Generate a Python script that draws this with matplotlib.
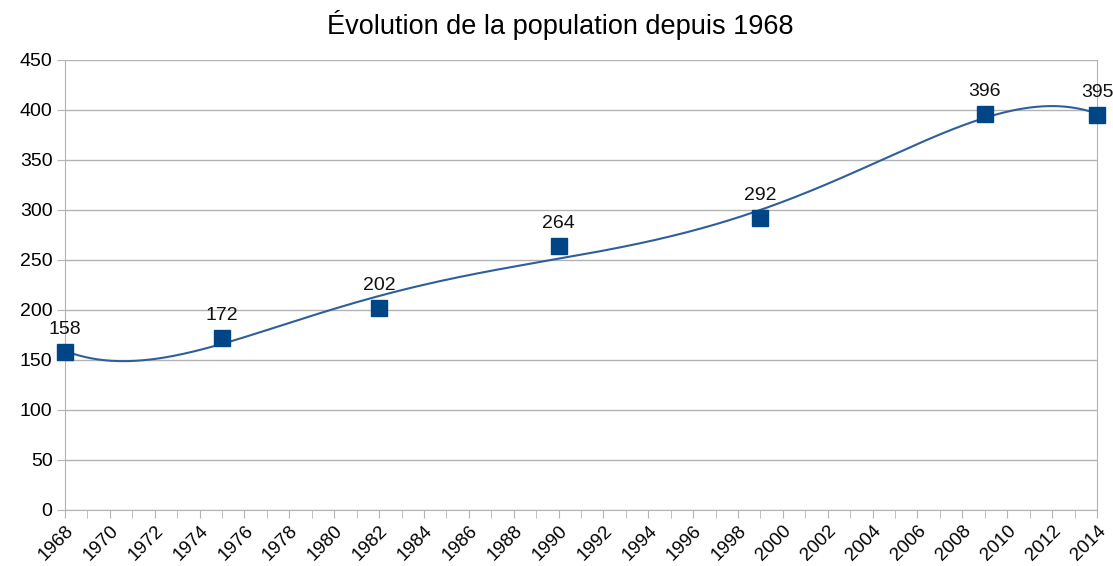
import matplotlib.pyplot as plt
import numpy as np

years = [1968, 1975, 1982, 1990, 1999, 2009, 2014]
population = [158, 172, 202, 264, 292, 396, 395]
title = "Évolution de la population depuis 1968"

plt.rcParams['font.family'] = ['Liberation Sans', 'DejaVu Sans']

fig = plt.figure(figsize=(11.13, 5.66), dpi=100)
ax = fig.add_axes([0.0584, 0.099, 0.9272, 0.795])

# smooth line through the points (polynomial fit of the data)
x = np.array(years, dtype=float)
y = np.array(population, dtype=float)
coef = np.polyfit(x - 1968, y, 5)
xs = np.linspace(1968, 2014, 400)
ax.plot(xs, np.polyval(coef, xs - 1968), color='#2f5f9a', lw=1.5, zorder=3)

ax.plot(years, population, ls='none', marker='s', ms=12, color='#004586',
        zorder=4, clip_on=False)
for xv, yv in zip(years, population):
    ax.annotate(str(yv), (xv, yv), xytext=(0, 10), textcoords='offset points',
                ha='center', va='bottom', fontsize=14, color='#111111',
                annotation_clip=False)

ax.set_xlim(1968, 2014)
ax.set_ylim(0, 450)
ax.set_yticks(range(0, 451, 50))
ax.set_xticks(range(1968, 2015, 2))
ax.set_xticks(range(1968, 2015, 1), minor=True)
ax.tick_params(axis='x', which='both', length=6, color='#b3b3b3', labelsize=13.5,
               pad=3)
ax.tick_params(axis='y', length=6, color='#b3b3b3', labelsize=14, pad=3)
plt.setp(ax.get_xticklabels(), rotation=45, ha='right', rotation_mode='anchor')
ax.grid(axis='y', color='#b3b3b3', lw=1)
ax.set_axisbelow(True)
for s in ax.spines.values():
    s.set_color('#b3b3b3')
ax.spines['top'].set_visible(False)

fig.text(0.503, 0.956, title, ha='center', va='center', fontsize=19.5)

fig.savefig('out.png', dpi=100)
